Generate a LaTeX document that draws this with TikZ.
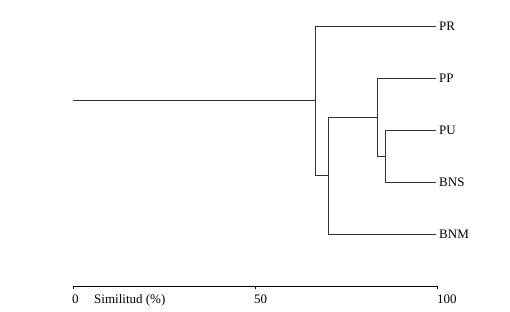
\documentclass[tikz,border=0pt]{standalone}
\usepackage{fontspec}
\setmainfont{Liberation Serif}
\begin{document}
\begin{tikzpicture}[x=1pt,y=-1pt,
  branch/.style={line width=0.75pt,draw=black!80},
  leaf/.style={anchor=west,inner sep=0pt,font=\fontsize{13}{15}\selectfont},
  ticklabel/.style={anchor=base west,inner sep=0pt,font=\fontsize{13}{15}\selectfont}]
\useasboundingbox (0,0) rectangle (510,312);
% leaves
\node[leaf] (PR)  at (439,26)  {PR};
\node[leaf] (PP)  at (439,78)  {PP};
\node[leaf] (PU)  at (439,130) {PU};
\node[leaf] (BNS) at (439,182) {BNS};
\node[leaf] (BNM) at (439,234) {BNM};
% junctions
\coordinate (root) at (73,100);
\coordinate (j1) at (315,100);
\coordinate (j2) at (328,175);
\coordinate (j3) at (377,117);
\coordinate (j4) at (385,156);
\coordinate (PRe) at (436,26);
\coordinate (PPe) at (436,78);
\coordinate (PUe) at (436,130);
\coordinate (BNSe) at (436,182);
\coordinate (BNMe) at (436,234);
% tree
\draw[branch] (root) -- (j1);
\draw[branch] (PRe) -- (PRe -| j1) -- (j1 |- j2) -- (j2);
\draw[branch] (j2 |- j3) -- (BNMe -| j2) -- (BNMe);
\draw[branch] (j2 |- j3) -- (j3);
\draw[branch] (PPe) -- (PPe -| j3) -- (j3 |- j4) -- (j4);
\draw[branch] (PUe) -- (PUe -| j4) -- (BNSe -| j4) -- (BNSe);
% axis
\coordinate (a0) at (73,286);
\coordinate (a50) at (255,286);
\coordinate (a100) at (437,286);
\draw[line width=0.9pt] (a0) -- (a100);
\foreach \p in {a0,a50,a100} \draw[line width=0.9pt] (\p) -- ++(0,2.5);
\node[ticklabel] (l0) at (72,303) {0};
\node[ticklabel] (lsim) at (94,303) {Similitud (\%)};
\node[ticklabel] (l50) at (254,303) {50};
\node[ticklabel] (l100) at (437,303) {100};
\end{tikzpicture}
\end{document}
